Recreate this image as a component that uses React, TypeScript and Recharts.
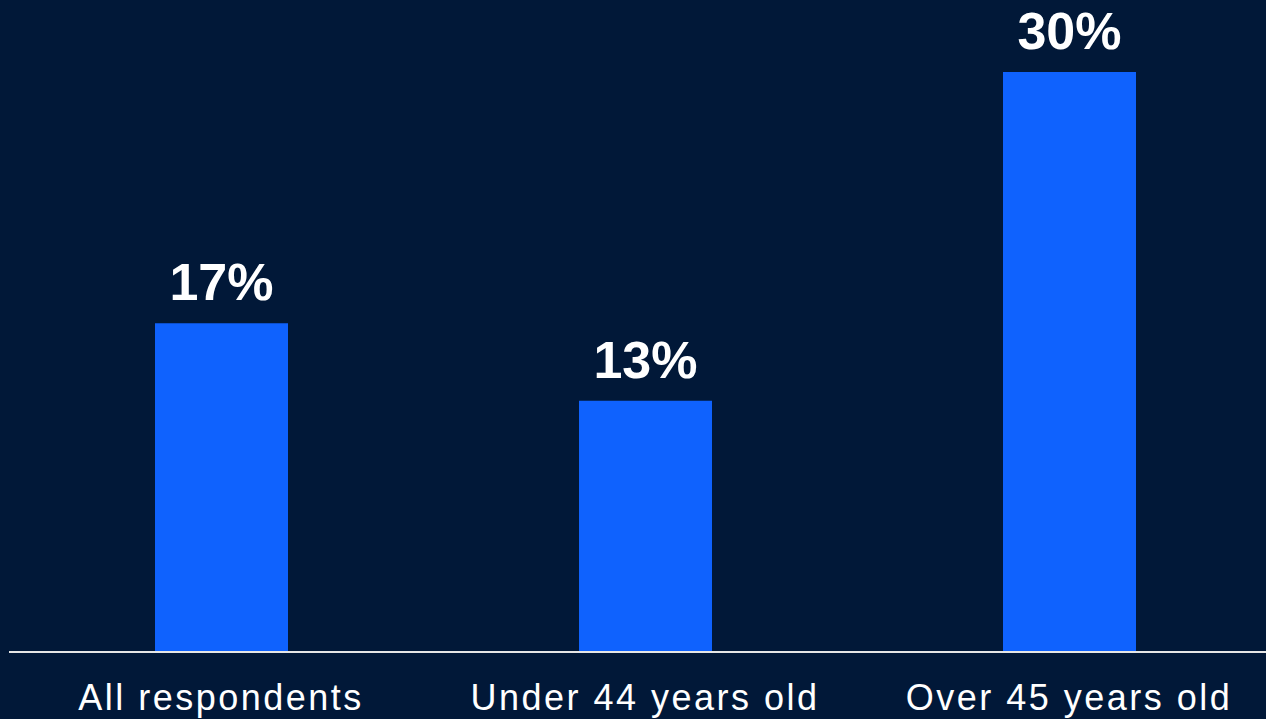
import { BarChart, Bar, XAxis, YAxis, LabelList } from 'recharts';

const categories = ['All respondents', 'Under 44 years old', 'Over 45 years old'];
const shares = [17, 13, 30];

const BG = '#011838';
const BAR = '#0f62fe';
const FONT = '"Liberation Sans", Arial, sans-serif';

const data = categories.map((name, i) => ({ name, value: shares[i] }));

const renderLabel = (props: any) => {
  const { x, y, width, value } = props;
  return (
    <text
      x={x + width / 2}
      y={y - 23}
      textAnchor="middle"
      fill="#ffffff"
      fontSize={52}
      fontWeight="bold"
      fontFamily={FONT}
    >
      {value}%
    </text>
  );
};

const renderTick = (props: any) => {
  const { x, y, payload } = props;
  return (
    <text
      x={x}
      y={y + 50}
      textAnchor="middle"
      fill="#ffffff"
      fontSize={36}
      fontFamily={FONT}
      letterSpacing={2.5}
    >
      {payload.value}
    </text>
  );
};

export default function App() {
  return (
    <div
      style={{
        position: 'fixed',
        top: 0,
        left: 0,
        width: 1266,
        height: 719,
        overflow: 'hidden',
        background: BG,
      }}
    >
      <BarChart
        width={1290}
        height={719}
        data={data}
        margin={{ top: 72, right: 9, left: 9, bottom: 0 }}
      >
        <XAxis
          dataKey="name"
          height={67}
          tickLine={false}
          axisLine={{ stroke: '#e6e6e6', strokeWidth: 2 }}
          tick={renderTick}
          interval={0}
        />
        <YAxis hide domain={[0, 30]} />
        <Bar dataKey="value" fill={BAR} barSize={133} isAnimationActive={false}>
          <LabelList dataKey="value" content={renderLabel} />
        </Bar>
      </BarChart>
    </div>
  );
}
